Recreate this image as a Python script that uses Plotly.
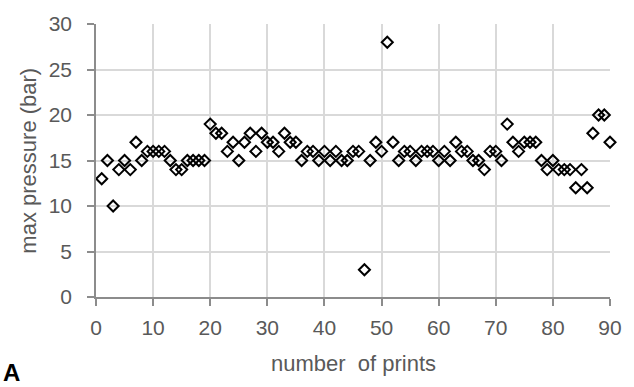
import plotly.graph_objects as go

prints = list(range(1, 91))
max_pressure = [
    13, 15, 10, 14, 15, 14, 17, 15, 16, 16,
    16, 16, 15, 14, 14, 15, 15, 15, 15, 19,
    18, 18, 16, 17, 15, 17, 18, 16, 18, 17,
    17, 16, 18, 17, 17, 15, 16, 16, 15, 16,
    15, 16, 15, 15, 16, 16, 3, 15, 17, 16,
    28, 17, 15, 16, 16, 15, 16, 16, 16, 15,
    16, 15, 17, 16, 16, 15, 15, 14, 16, 16,
    15, 19, 17, 16, 17, 17, 17, 15, 14, 15,
    14, 14, 14, 12, 14, 12, 18, 20, 20, 17,
]
x_ticks = [0, 10, 20, 30, 40, 50, 60, 70, 80, 90]
y_ticks = [0, 5, 10, 15, 20, 25, 30]

FONT = "Liberation Sans, Arial, sans-serif"
TXT = "#595959"
AX = "#8c8c8c"
GRID = "#d9d9d9"

fig = go.Figure(
    go.Scatter(
        x=prints, y=max_pressure, mode="markers",
        marker=dict(symbol="diamond-open", size=8.5, color="black",
                    line=dict(width=2, color="black")),
        cliponaxis=False, showlegend=False,
    )
)

fig.update_layout(
    width=634, height=387,
    margin=dict(l=96, r=17, t=23, b=90),
    paper_bgcolor="white", plot_bgcolor="white",
    font=dict(family=FONT, color=TXT),
    xaxis=dict(range=[0, 90], tickvals=x_ticks, showgrid=True, gridcolor=GRID,
               gridwidth=1.5, showline=True, linecolor=AX, linewidth=1.5,
               ticks="outside", ticklen=7, tickcolor=AX, tickwidth=1.5,
               tickfont=dict(size=21, color=TXT), ticklabelstandoff=4,
               zeroline=False, fixedrange=True),
    yaxis=dict(range=[0, 30], tickvals=y_ticks, showgrid=True, gridcolor=GRID,
               gridwidth=1.5, showline=True, linecolor=AX, linewidth=1.5,
               ticks="outside", ticklen=7, tickcolor=AX, tickwidth=1.5,
               tickfont=dict(size=21, color=TXT), ticklabelstandoff=11,
               zeroline=False, fixedrange=True),
    annotations=[
        dict(text="number  of prints", xref="paper", yref="paper",
             x=0.5, y=-0.245, xanchor="center", yanchor="middle",
             showarrow=False, font=dict(size=22, color=TXT, family=FONT)),
        dict(text="max pressure (bar)", xref="paper", yref="paper",
             x=-0.132, y=0.5, xanchor="center", yanchor="middle", textangle=-90,
             showarrow=False, font=dict(size=22, color=TXT, family=FONT)),
        dict(text="<b>A</b>", xref="paper", yref="paper",
             x=-0.184, y=-0.334, xanchor="left", yanchor="bottom",
             showarrow=False, font=dict(size=24, color="black", family=FONT)),
    ],
)

fig.write_html("out.html")
